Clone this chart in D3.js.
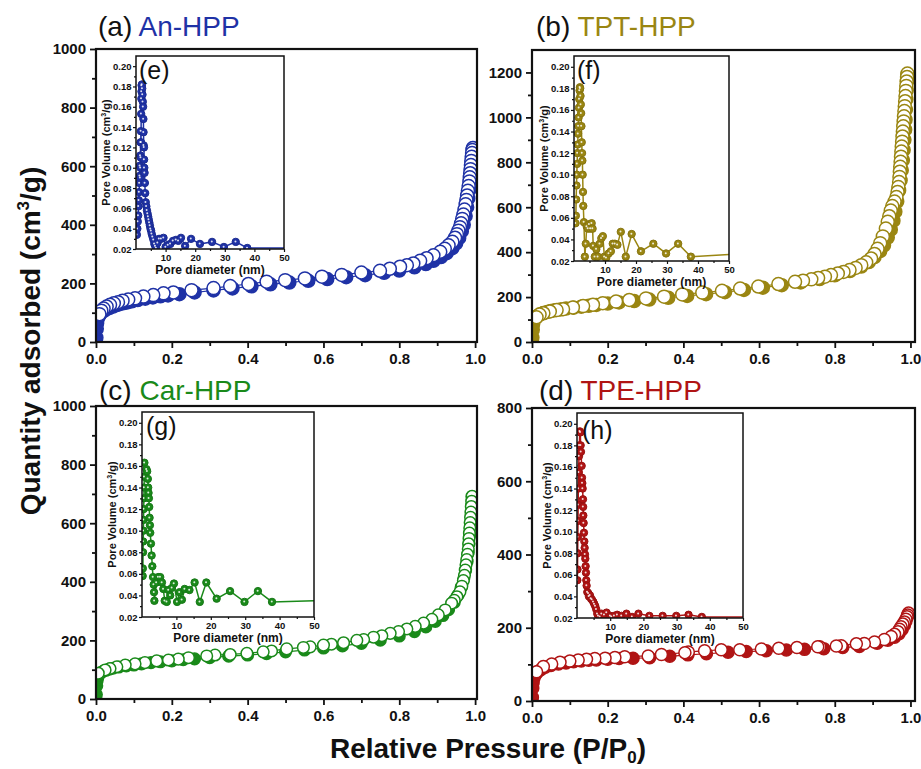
<!DOCTYPE html>
<html><head><meta charset="utf-8">
<script src="https://cdn.jsdelivr.net/npm/d3@7"></script>
<style>body{margin:0;background:#fff}svg{display:block}</style>
</head><body><svg id="c" width="921" height="769"></svg>
<script>
// ---------------- DATA ----------------
const panelLetters = ["(a)", "(b)", "(c)", "(d)"];
const sampleNames = ["An-HPP", "TPT-HPP", "Car-HPP", "TPE-HPP"];
const insetLetters = ["(e)", "(f)", "(g)", "(h)"];

const pressureTicks = [0, 0.2, 0.4, 0.6, 0.8, 1.0];
const pressureMinorTicks = [0.1, 0.3, 0.5, 0.7, 0.9];
const quantityTicks1000 = [0, 200, 400, 600, 800, 1000];
const quantityTicks1200 = [0, 200, 400, 600, 800, 1000, 1200];
const quantityTicks800 = [0, 200, 400, 600, 800];
const poreVolumeTicks = [0.02, 0.04, 0.06, 0.08, 0.10, 0.12, 0.14, 0.16, 0.18, 0.20];
const poreVolumeMinorTicks = [0.03, 0.05, 0.07, 0.09, 0.11, 0.13, 0.15, 0.17, 0.19];
const poreDiameterTicks = [10, 20, 30, 40, 50];
const poreDiameterMinorTicks = [5, 15, 25, 35, 45];

// (a) An-HPP isotherm [P/P0, cm3/g]
const anAdsorption = [[0.0003,0],[0.001,15],[0.002,45],[0.003,65],[0.005,80],[0.008,90],[0.012,97],[0.018,104],[0.025,110],[0.035,116],[0.045,121],[0.055,126],[0.065,130],[0.075,133],[0.085,136],[0.095,139],[0.11,143],[0.13,148],[0.15,152],[0.17,156],[0.19,159],[0.22,163],[0.26,169],[0.31,176],[0.36,183],[0.41,190],[0.46,197],[0.51,203],[0.56,209],[0.61,215],[0.66,221],[0.71,228],[0.76,236],[0.80,244],[0.84,255],[0.87,266],[0.89,277],[0.91,290],[0.925,303],[0.94,320],[0.95,337],[0.958,355],[0.965,378],[0.97,400],[0.975,430],[0.979,460],[0.982,490],[0.985,520],[0.987,550],[0.989,580],[0.991,610],[0.993,640],[0.994,660]];
const anDesorption = [[0.994,662],[0.993,655],[0.992,645],[0.991,632],[0.99,618],[0.989,604],[0.988,590],[0.987,576],[0.986,562],[0.985,548],[0.983,532],[0.981,516],[0.979,500],[0.977,485],[0.975,470],[0.972,452],[0.969,435],[0.966,420],[0.963,405],[0.96,392],[0.956,380],[0.952,368],[0.947,356],[0.94,342],[0.93,330],[0.92,318],[0.908,308],[0.89,296],[0.872,286],[0.855,277],[0.837,268],[0.82,262],[0.802,257],[0.775,250],[0.749,243],[0.70,237],[0.648,229],[0.596,223],[0.551,217],[0.499,211],[0.45,206],[0.402,198],[0.354,191],[0.31,184],[0.252,177],[0.204,169],[0.178,166],[0.151,160],[0.125,155],[0.103,149],[0.085,145],[0.07,141],[0.058,136],[0.047,132],[0.037,127],[0.028,121],[0.02,114],[0.014,107],[0.009,95]];

// (b) TPT-HPP isotherm
const tptAdsorption = [[0.0003,0],[0.001,20],[0.002,55],[0.003,80],[0.005,98],[0.008,108],[0.012,114],[0.02,122],[0.03,129],[0.04,134],[0.05,138],[0.06,141],[0.075,145],[0.09,149],[0.11,153],[0.13,157],[0.15,161],[0.17,165],[0.2,171],[0.23,176],[0.27,182],[0.31,189],[0.36,197],[0.41,205],[0.46,213],[0.51,222],[0.56,232],[0.61,242],[0.66,253],[0.71,265],[0.76,280],[0.80,297],[0.84,316],[0.87,336],[0.89,356],[0.905,378],[0.92,405],[0.93,430],[0.94,465],[0.948,500],[0.955,540],[0.96,580],[0.965,625],[0.97,675],[0.974,720],[0.977,765],[0.98,810],[0.982,855],[0.984,900],[0.986,945],[0.987,990],[0.988,1035],[0.989,1080],[0.99,1120],[0.991,1160],[0.992,1190]];
const tptDesorption = [[0.992,1195],[0.991,1180],[0.99,1160],[0.989,1140],[0.988,1118],[0.987,1095],[0.986,1072],[0.985,1050],[0.984,1028],[0.983,1005],[0.982,982],[0.981,960],[0.98,937],[0.979,915],[0.978,892],[0.977,870],[0.976,848],[0.975,825],[0.974,802],[0.973,780],[0.972,758],[0.971,735],[0.97,712],[0.968,690],[0.966,668],[0.963,645],[0.958,625],[0.952,605],[0.948,585],[0.944,560],[0.94,535],[0.935,505],[0.927,470],[0.92,440],[0.913,415],[0.905,392],[0.896,372],[0.883,355],[0.87,342],[0.855,330],[0.839,320],[0.823,312],[0.808,305],[0.79,298],[0.774,291],[0.756,285],[0.738,279],[0.716,273],[0.695,268],[0.651,258],[0.598,247],[0.55,238],[0.502,228],[0.45,220],[0.397,212],[0.349,202],[0.301,194],[0.257,187],[0.222,180],[0.187,173],[0.161,166],[0.135,160],[0.108,154],[0.082,146],[0.065,142],[0.047,136],[0.03,128],[0.02,122],[0.012,110]];

// (c) Car-HPP isotherm
const carAdsorption = [[0.0003,0],[0.001,15],[0.002,45],[0.003,62],[0.005,75],[0.008,83],[0.012,89],[0.018,94],[0.026,98],[0.035,102],[0.045,105],[0.06,109],[0.08,113],[0.1,116],[0.12,120],[0.145,124],[0.17,127],[0.2,130],[0.23,134],[0.26,137],[0.3,141],[0.35,146],[0.4,150],[0.45,155],[0.5,161],[0.55,167],[0.6,174],[0.65,181],[0.7,190],[0.75,201],[0.8,215],[0.84,230],[0.87,246],[0.895,265],[0.915,285],[0.93,305],[0.945,330],[0.955,355],[0.963,380],[0.97,410],[0.975,440],[0.979,470],[0.982,500],[0.984,530],[0.986,560],[0.988,595],[0.99,630],[0.991,660],[0.992,690]];
const carDesorption = [[0.992,692],[0.991,675],[0.99,657],[0.989,638],[0.988,620],[0.987,602],[0.986,584],[0.985,566],[0.984,548],[0.983,530],[0.982,512],[0.98,494],[0.978,476],[0.976,458],[0.974,440],[0.972,422],[0.969,404],[0.965,385],[0.96,366],[0.952,349],[0.945,337],[0.938,327],[0.921,304],[0.903,287],[0.886,272],[0.864,259],[0.842,248],[0.82,239],[0.798,230],[0.776,224],[0.754,216],[0.732,211],[0.706,203],[0.688,200],[0.653,192],[0.621,187],[0.6,184],[0.565,178],[0.547,176],[0.503,171],[0.463,164],[0.441,161],[0.398,156],[0.354,152],[0.314,150],[0.292,147],[0.244,141],[0.217,136],[0.191,133],[0.16,130],[0.129,124],[0.103,120],[0.077,116],[0.055,110],[0.037,104],[0.024,99],[0.006,88]];

// (d) TPE-HPP isotherm
const tpeAdsorption = [[0.0003,0],[0.001,10],[0.002,35],[0.003,50],[0.005,62],[0.008,70],[0.012,76],[0.018,82],[0.025,87],[0.035,92],[0.05,97],[0.07,101],[0.09,104],[0.11,107],[0.13,109],[0.15,111],[0.17,112],[0.2,114],[0.23,116],[0.267,117],[0.311,118],[0.364,122],[0.412,126],[0.461,129],[0.518,133],[0.566,135],[0.619,137],[0.672,139],[0.72,141],[0.771,143],[0.821,146],[0.865,149],[0.912,158],[0.94,166],[0.958,174],[0.97,184],[0.978,195],[0.984,207],[0.988,218],[0.991,228],[0.993,236]];
const tpeDesorption = [[0.995,240],[0.993,235],[0.991,230],[0.988,223],[0.984,216],[0.98,210],[0.975,203],[0.971,196],[0.967,189],[0.958,182],[0.949,176],[0.931,168],[0.905,161],[0.878,157],[0.857,156],[0.817,151],[0.804,150],[0.76,148],[0.755,148],[0.7,146],[0.652,144],[0.606,142],[0.549,140],[0.5,140],[0.456,137],[0.413,134],[0.404,132],[0.342,127],[0.307,123],[0.245,121],[0.219,119],[0.193,117],[0.166,116],[0.144,114],[0.122,112],[0.1,109],[0.074,106],[0.052,101],[0.03,94],[0.012,80]];

// Insets: pore size distribution [nm, cm3/g]
const anPoreDist = [[0.3,0.034],[0.45,0.040],[0.6,0.047],[0.75,0.053],[0.85,0.062],[0.95,0.068],[1.05,0.076],[1.15,0.085],[1.25,0.092],[1.3,0.102],[1.4,0.090],[1.45,0.112],[1.5,0.100],[1.55,0.125],[1.6,0.110],[1.65,0.136],[1.7,0.125],[1.75,0.153],[1.8,0.168],[1.85,0.175],[1.9,0.181],[2.0,0.182],[2.1,0.178],[2.2,0.172],[2.3,0.165],[2.4,0.160],[2.5,0.148],[2.55,0.135],[2.6,0.122],[2.7,0.120],[2.75,0.108],[2.8,0.100],[2.9,0.095],[3.0,0.085],[3.1,0.075],[3.3,0.066],[3.5,0.062],[3.7,0.058],[3.9,0.055],[4.1,0.052],[4.3,0.049],[4.5,0.046],[4.7,0.043],[4.9,0.040],[5.1,0.038],[5.3,0.035],[5.6,0.032],[5.9,0.029],[6.2,0.025],[6.5,0.023],[6.8,0.021],[7.3,0.026],[7.8,0.030],[8.5,0.030],[9.3,0.031],[10.0,0.022],[10.8,0.024],[11.6,0.025],[12.5,0.028],[13.5,0.029],[14.3,0.028],[15.2,0.031],[16.6,0.023],[18.6,0.030],[21.6,0.025],[25.7,0.027],[29.7,0.022],[33.7,0.027],[37.6,0.021],[50,0.021]];
const tptPoreDist = [[0.5,0.055],[0.6,0.062],[0.7,0.077],[0.8,0.090],[0.9,0.100],[1.0,0.110],[1.1,0.120],[1.2,0.128],[1.3,0.138],[1.4,0.145],[1.5,0.153],[1.6,0.162],[1.7,0.170],[1.8,0.178],[1.9,0.181],[2.0,0.180],[2.1,0.173],[2.2,0.165],[2.3,0.157],[2.4,0.145],[2.5,0.130],[2.6,0.120],[2.7,0.113],[2.8,0.100],[2.9,0.084],[3.0,0.071],[3.2,0.056],[3.5,0.024],[3.8,0.036],[4.1,0.052],[4.5,0.050],[4.9,0.054],[5.3,0.050],[5.7,0.055],[6.0,0.050],[6.2,0.034],[6.7,0.024],[7.2,0.031],[7.7,0.024],[8.3,0.036],[8.8,0.041],[9.3,0.043],[9.8,0.024],[10.4,0.023],[11.2,0.027],[11.9,0.029],[12.5,0.036],[13.2,0.036],[14.0,0.035],[15.1,0.047],[16.7,0.024],[18.6,0.045],[21.6,0.029],[25.6,0.036],[29.7,0.027],[33.6,0.036],[37.7,0.024],[50,0.026]];
const carPoreDist = [[0.2,0.058],[0.25,0.065],[0.3,0.080],[0.35,0.090],[0.4,0.100],[0.45,0.110],[0.5,0.120],[0.55,0.130],[0.6,0.140],[0.65,0.150],[0.7,0.163],[1.3,0.157],[1.5,0.155],[1.7,0.148],[1.8,0.140],[1.9,0.135],[2.0,0.130],[2.1,0.122],[2.2,0.112],[2.3,0.105],[2.4,0.098],[2.6,0.088],[2.8,0.077],[3.0,0.067],[3.2,0.057],[3.4,0.050],[3.5,0.043],[3.6,0.035],[4.2,0.052],[4.7,0.057],[5.3,0.057],[5.8,0.052],[6.2,0.046],[6.6,0.035],[7.2,0.034],[7.7,0.045],[8.2,0.040],[8.7,0.047],[9.3,0.051],[10.2,0.034],[10.9,0.043],[11.6,0.036],[12.4,0.046],[13.8,0.045],[15.3,0.052],[16.8,0.034],[18.7,0.052],[21.7,0.037],[25.6,0.044],[29.8,0.034],[33.7,0.044],[37.8,0.034],[50,0.035]];
const tpePoreDist = [[0.1,0.055],[0.15,0.065],[0.2,0.080],[0.25,0.095],[0.3,0.110],[0.35,0.125],[0.4,0.140],[0.5,0.155],[0.6,0.170],[0.7,0.180],[0.85,0.193],[1.0,0.192],[1.1,0.180],[1.2,0.174],[1.4,0.161],[1.5,0.150],[1.6,0.145],[1.7,0.140],[1.8,0.130],[1.85,0.123],[1.9,0.115],[2.0,0.108],[2.1,0.099],[2.2,0.091],[2.3,0.085],[2.4,0.079],[2.5,0.075],[2.6,0.068],[2.7,0.062],[2.8,0.055],[2.9,0.050],[3.1,0.044],[3.4,0.043],[3.6,0.040],[3.9,0.041],[4.2,0.038],[4.5,0.037],[4.9,0.035],[5.2,0.033],[5.5,0.031],[5.8,0.028],[6.1,0.024],[6.4,0.022],[6.9,0.021],[7.4,0.024],[8.2,0.023],[8.9,0.025],[10.0,0.022],[10.4,0.021],[11.2,0.022],[12.1,0.023],[13.4,0.022],[14.9,0.024],[16.6,0.021],[18.5,0.024],[21.8,0.022],[25.8,0.022],[29.9,0.022],[33.6,0.023],[37.6,0.021],[50,0.021]];

// ---------------- LAYOUT / STYLE ----------------
const FONT = '"Liberation Sans", Arial, Helvetica, sans-serif';
const INK = "#111";
const panels = [
  {ads: anAdsorption, des: anDesorption, psd: anPoreDist, yTicks: quantityTicks1000, yMax: 1000, xMax: 1.005, color: "#1f32a6",
   frame: {x0: 96, y0: 49, x1: 477, y1: 342}, inset: {x0: 136, y0: 56, x1: 284, y1: 249}, r: 6.5,
   title: {x: 98, y: 36}, inLetter: {x: 139, y: 79}},
  {ads: tptAdsorption, des: tptDesorption, psd: tptPoreDist, yTicks: quantityTicks1200, yMax: 1300, xMax: 1.012, color: "#9a8612",
   frame: {x0: 532, y0: 50, x1: 915, y1: 342}, inset: {x0: 574, y0: 56, x1: 729, y1: 261}, r: 6.5,
   title: {x: 536, y: 36}, inLetter: {x: 577, y: 79}},
  {ads: carAdsorption, des: carDesorption, psd: carPoreDist, yTicks: quantityTicks1000, yMax: 1000, xMax: 1.005, color: "#1a8a1a",
   frame: {x0: 96, y0: 406, x1: 477, y1: 699}, inset: {x0: 142, y0: 412, x1: 314, y1: 617}, r: 5.8,
   title: {x: 99, y: 400}, inLetter: {x: 146, y: 435}},
  {ads: tpeAdsorption, des: tpeDesorption, psd: tpePoreDist, yTicks: quantityTicks800, yMax: 800, xMax: 1.012, color: "#b01414",
   frame: {x0: 532, y0: 408, x1: 915, y1: 701}, inset: {x0: 577, y0: 413, x1: 743, y1: 618}, r: 6,
   title: {x: 539, y: 400}, inLetter: {x: 582, y: 439}}
];

const svg = d3.select("#c");
svg.append("rect").attr("width", 921).attr("height", 769).attr("fill", "#fff");

function styleAxis(g, size, weight) {
  g.attr("font-family", FONT).attr("font-size", size).attr("font-weight", weight);
  g.select(".domain").remove();
  g.selectAll(".tick line").attr("stroke", INK);
  g.selectAll(".tick text").attr("fill", INK);
}

panels.forEach((p, i) => {
  const f = p.frame;
  const g = svg.append("g");
  const x = d3.scaleLinear().domain([0, p.xMax]).range([f.x0, f.x1]);
  const y = d3.scaleLinear().domain([0, p.yMax]).range([f.y1, f.y0]);

  const clipId = "clipMain" + i;
  svg.append("clipPath").attr("id", clipId).append("rect")
    .attr("x", f.x0).attr("y", f.y0).attr("width", f.x1 - f.x0).attr("height", f.y1 - f.y0);

  const data = g.append("g").attr("clip-path", `url(#${clipId})`);
  const line = d3.line().x(d => x(d[0])).y(d => y(d[1]));
  [p.ads, p.des].forEach(s => data.append("path").attr("d", line(s))
    .attr("fill", "none").attr("stroke", p.color).attr("stroke-width", 1.2));
  data.selectAll(".ads").data(p.ads).join("circle").attr("class", "ads")
    .attr("cx", d => x(d[0])).attr("cy", d => y(d[1])).attr("r", p.r)
    .attr("fill", p.color).attr("stroke", p.color).attr("stroke-width", 1.5);
  data.selectAll(".des").data(p.des).join("circle").attr("class", "des")
    .attr("cx", d => x(d[0])).attr("cy", d => y(d[1])).attr("r", p.r)
    .attr("fill", "#fff").attr("stroke", p.color).attr("stroke-width", 1.5);

  // axes
  const xa = g.append("g").attr("transform", `translate(0,${f.y1})`)
    .call(d3.axisBottom(x).tickValues(pressureTicks).tickSize(6).tickPadding(5).tickFormat(d3.format(".1f")));
  styleAxis(xa, 15, "bold"); xa.selectAll(".tick line").attr("stroke-width", 1.8);
  const xm = g.append("g").attr("transform", `translate(0,${f.y1})`)
    .call(d3.axisBottom(x).tickValues(pressureMinorTicks).tickSize(4).tickFormat(""));
  styleAxis(xm, 15, "bold"); xm.selectAll(".tick line").attr("stroke-width", 1.8);

  const minorY = d3.range(100, p.yMax, 200).filter(v => v < p.yMax);
  const ya = g.append("g").attr("transform", `translate(${f.x0},0)`)
    .call(d3.axisLeft(y).tickValues(p.yTicks).tickSize(6).tickPadding(4).tickFormat(d3.format("d")));
  styleAxis(ya, 15, "bold"); ya.selectAll(".tick line").attr("stroke-width", 1.8);
  const ym = g.append("g").attr("transform", `translate(${f.x0},0)`)
    .call(d3.axisLeft(y).tickValues(minorY).tickSize(4).tickFormat(""));
  styleAxis(ym, 15, "bold"); ym.selectAll(".tick line").attr("stroke-width", 1.8);

  g.append("rect").attr("x", f.x0).attr("y", f.y0).attr("width", f.x1 - f.x0).attr("height", f.y1 - f.y0)
    .attr("fill", "none").attr("stroke", INK).attr("stroke-width", 2.2);

  // title
  const t = g.append("text").attr("x", p.title.x).attr("y", p.title.y)
    .attr("font-family", FONT).attr("font-size", 28).attr("fill", INK);
  t.append("tspan").text(panelLetters[i] + " ");
  t.append("tspan").attr("fill", p.color).text(sampleNames[i]);

  // ---------- inset ----------
  const n = p.inset;
  const ig = svg.append("g");
  ig.append("rect").attr("x", n.x0).attr("y", n.y0).attr("width", n.x1 - n.x0).attr("height", n.y1 - n.y0)
    .attr("fill", "#fff");
  const ix = d3.scaleLinear().domain([0, 50]).range([n.x0, n.x1]);
  const iy = d3.scaleLinear().domain([0.02, 0.21]).range([n.y1, n.y0]);
  const iclip = "clipInset" + i;
  svg.append("clipPath").attr("id", iclip).append("rect")
    .attr("x", n.x0).attr("y", n.y0).attr("width", n.x1 - n.x0).attr("height", n.y1 - n.y0);
  const idata = ig.append("g").attr("clip-path", `url(#${iclip})`);
  const iline = d3.line().x(d => ix(d[0])).y(d => iy(d[1]));
  idata.append("path").attr("d", iline(p.psd)).attr("fill", "none")
    .attr("stroke", p.color).attr("stroke-width", 1.5);
  const pts = p.psd.filter(d => d[0] < 45);
  idata.selectAll(".pm").data(pts).join("circle").attr("class", "pm")
    .attr("cx", d => ix(d[0])).attr("cy", d => iy(d[1])).attr("r", 3.7)
    .attr("fill", p.color).attr("stroke", d3.color(p.color).darker(0.4)).attr("stroke-width", 1);
  idata.selectAll(".ph").data(pts).join("circle").attr("class", "ph")
    .attr("cx", d => ix(d[0]) - 0.3).attr("cy", d => iy(d[1]) - 0.3).attr("r", 1.0)
    .attr("fill", "#fff").attr("opacity", 0.85);

  const ixa = ig.append("g").attr("transform", `translate(0,${n.y1})`)
    .call(d3.axisBottom(ix).tickValues(poreDiameterTicks).tickSize(3).tickPadding(2).tickFormat(d3.format("d")));
  styleAxis(ixa, 9.5, "bold"); ixa.selectAll(".tick line").attr("stroke-width", 1.2);
  const ixm = ig.append("g").attr("transform", `translate(0,${n.y1})`)
    .call(d3.axisBottom(ix).tickValues(poreDiameterMinorTicks).tickSize(2).tickFormat(""));
  styleAxis(ixm, 9.5, "bold"); ixm.selectAll(".tick line").attr("stroke-width", 1.2);
  const iya = ig.append("g").attr("transform", `translate(${n.x0},0)`)
    .call(d3.axisLeft(iy).tickValues(poreVolumeTicks).tickSize(3).tickPadding(1.5).tickFormat(d3.format(".2f")));
  styleAxis(iya, 9.5, "bold"); iya.selectAll(".tick line").attr("stroke-width", 1.2);
  const iym = ig.append("g").attr("transform", `translate(${n.x0},0)`)
    .call(d3.axisLeft(iy).tickValues(poreVolumeMinorTicks).tickSize(2).tickFormat(""));
  styleAxis(iym, 9.5, "bold"); iym.selectAll(".tick line").attr("stroke-width", 1.2);

  ig.append("rect").attr("x", n.x0).attr("y", n.y0).attr("width", n.x1 - n.x0).attr("height", n.y1 - n.y0)
    .attr("fill", "none").attr("stroke", INK).attr("stroke-width", 1.5);

  ig.append("text").attr("x", (n.x0 + n.x1) / 2).attr("y", n.y1 + 24.5).attr("text-anchor", "middle")
    .attr("font-family", FONT).attr("font-size", 12).attr("font-weight", "bold").attr("fill", INK)
    .text("Pore diameter (nm)");
  const yl = ig.append("text")
    .attr("transform", `translate(${n.x0 - 26},${(n.y0 + n.y1) / 2}) rotate(-90)`)
    .attr("text-anchor", "middle").attr("font-family", FONT).attr("font-size", 11)
    .attr("font-weight", "bold").attr("fill", INK);
  yl.append("tspan").text("Pore Volume (cm");
  yl.append("tspan").attr("font-size", 7).attr("dy", -4.5).text("3");
  yl.append("tspan").attr("dy", 4.5).text("/g)");

  ig.append("text").attr("x", p.inLetter.x).attr("y", p.inLetter.y)
    .attr("font-family", FONT).attr("font-size", 25).attr("fill", INK).text(insetLetters[i]);
});

// global axis titles
const yt = svg.append("text").attr("transform", "translate(40,341) rotate(-90)")
  .attr("text-anchor", "middle").attr("font-family", FONT).attr("font-size", 28)
  .attr("font-weight", "bold").attr("fill", INK);
yt.append("tspan").text("Quantity adsorbed (cm");
yt.append("tspan").attr("font-size", 17).attr("dy", -11).text("3");
yt.append("tspan").attr("dy", 11).text("/g)");

const xt = svg.append("text").attr("x", 488).attr("y", 758)
  .attr("text-anchor", "middle").attr("font-family", FONT).attr("font-size", 28)
  .attr("font-weight", "bold").attr("fill", INK);
xt.append("tspan").text("Relative Pressure (P/P");
xt.append("tspan").attr("font-size", 17).attr("dy", 5).text("0");
xt.append("tspan").attr("dy", -5).text(")");
</script>
</body></html>
